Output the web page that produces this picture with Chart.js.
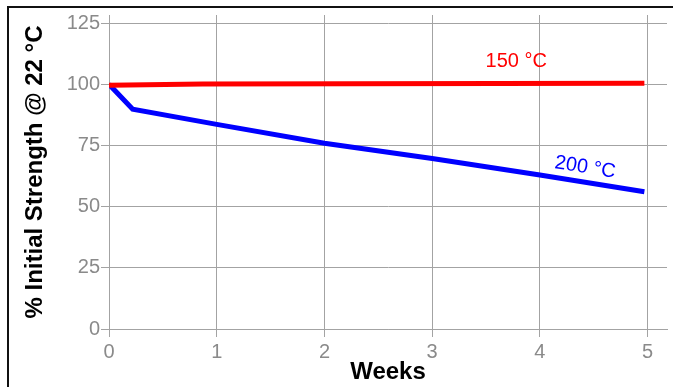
<!DOCTYPE html>
<html>
<head>
<meta charset="utf-8">
<script src="https://cdn.jsdelivr.net/npm/chart.js@4"></script>
<style>
body { margin: 0; background: #fff; }
#frame { position: absolute; left: 7px; top: 6px; width: 700px; height: 400px; border-top: 2px solid #111; border-left: 2px solid #111; }
#wrap { position: absolute; left: 0; top: 0; width: 673px; height: 387px; }
</style>
</head>
<body>
<div id="frame"></div>
<div id="wrap"><canvas id="c"></canvas></div>
<script>
// values
var weeks150 = [0, 0.87, 4.97]
var strength150 = [99.6, 100.1, 100.4]
var weeks200 = [0, 0.22, 1, 2, 3, 4, 4.97]
var strength200 = [100, 89.8, 83.6, 75.9, 69.7, 62.9, 56.1]
var xTicks = [0, 1, 2, 3, 4, 5]
var yTicks = [0, 25, 50, 75, 100, 125]

function pts(xs, ys) {
    return xs.map(function (x, i) { return { x: x, y: ys[i] } })
}

// curve labels, placed in data units
var curveLabels = [
    { text: '150 °C', x: 3.78, y: 109.3, color: '#ff0000', angle: 0 },
    { text: '200 °C', x: 4.42, y: 66.0, color: '#0000ff', angle: 9 }
]

var labelPlugin = {
    id: 'curveLabels',
    afterDatasetsDraw: function (chart) {
        var ctx = chart.ctx
        var sx = chart.scales.x, sy = chart.scales.y
        curveLabels.forEach(function (l) {
            ctx.save()
            ctx.translate(sx.getPixelForValue(l.x), sy.getPixelForValue(l.y))
            ctx.rotate(l.angle * Math.PI / 180)
            ctx.font = '20px "Liberation Sans", Arial, sans-serif'
            ctx.fillStyle = l.color
            ctx.textAlign = 'center'
            ctx.textBaseline = 'middle'
            ctx.fillText(l.text, 0, 0)
            ctx.restore()
        })
    }
}

var gridColor = '#a3a3a3'
var tickColor = '#8a8a8a'

var config = {
    type: 'line',
    data: {
        datasets: [
            { label: '150 °C', data: pts(weeks150, strength150), borderColor: '#ff0000', borderWidth: 5, pointRadius: 0, tension: 0 },
            { label: '200 °C', data: pts(weeks200, strength200), borderColor: '#0000ff', borderWidth: 5, pointRadius: 0, tension: 0 }
        ]
    },
    options: {
        responsive: true,
        maintainAspectRatio: false,
        animation: false,
        layout: { padding: { top: 15, right: 6, left: 0, bottom: 0 } },
        plugins: { legend: { display: false }, tooltip: { enabled: false } },
        scales: {
            x: {
                type: 'linear', min: 0, max: 5.18,
                afterBuildTicks: function (s) { s.ticks = xTicks.map(function (v) { return { value: v } }) },
                afterFit: function (s) { s.height = 58 },
                grid: { color: gridColor, tickLength: 8 },
                border: { color: gridColor },
                ticks: { color: tickColor, padding: 3, font: { family: '"Liberation Sans", Arial, sans-serif', size: 20 } },
                title: { display: true, text: 'Weeks', color: '#000', padding: { top: 0, bottom: 0 },
                    font: { family: '"Liberation Sans", Arial, sans-serif', size: 24, weight: 'bold', lineHeight: 1.2 } }
            },
            y: {
                min: 0, max: 128.3,
                afterBuildTicks: function (s) { s.ticks = yTicks.map(function (v) { return { value: v } }) },
                afterFit: function (s) { s.width = 109 },
                grid: { color: gridColor, tickLength: 8 },
                border: { color: gridColor },
                ticks: { color: tickColor, padding: 1, font: { family: '"Liberation Sans", Arial, sans-serif', size: 20 } },
                title: { display: true, text: '% Initial Strength @ 22 °C', color: '#000', padding: { top: 21, bottom: 0 },
                    font: { family: '"Liberation Sans", Arial, sans-serif', size: 24, weight: 'bold', lineHeight: 1.2 } }
            }
        }
    },
    plugins: [labelPlugin]
}

var chart = new Chart(document.getElementById('c'), config)
</script>
</body>
</html>
